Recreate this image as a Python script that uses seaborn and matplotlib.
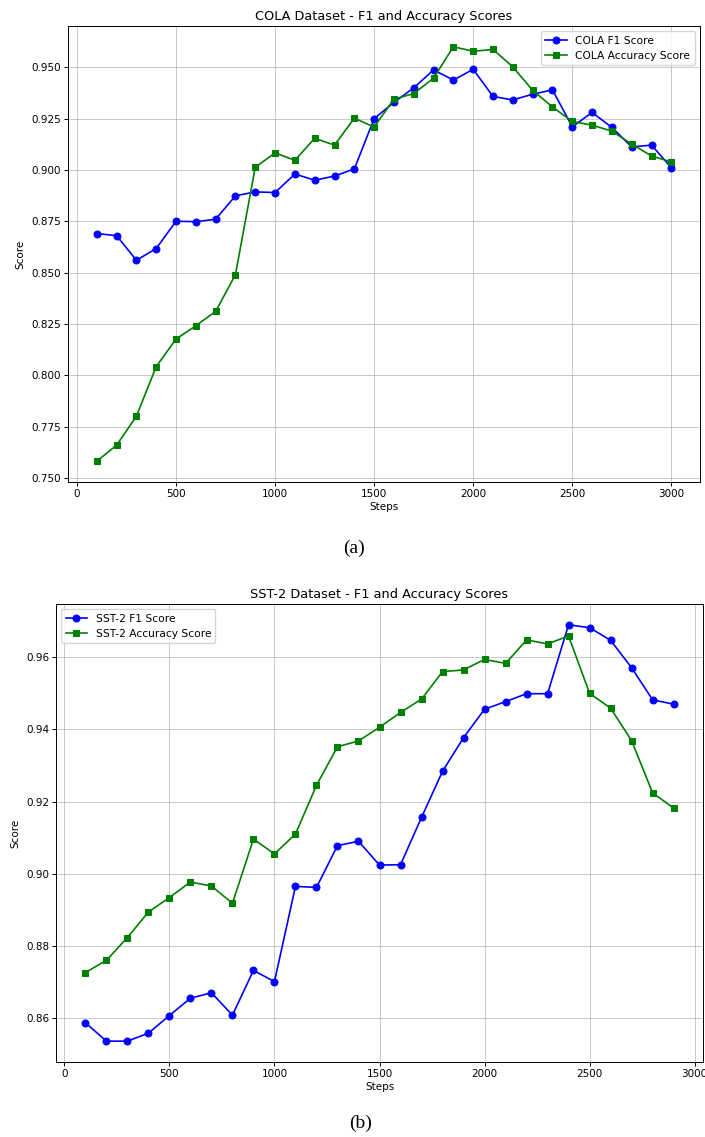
import numpy as np
import pandas as pd
import seaborn as sns
from matplotlib import pyplot as plt

# COLA scores, steps 100..3000
cola_steps = list(range(100, 3001, 100))
cola_f1 = [0.869, 0.868, 0.856, 0.8617, 0.875, 0.8748, 0.876, 0.8874, 0.8893, 0.889,
           0.898, 0.895, 0.897, 0.9005, 0.925, 0.9329, 0.940, 0.9487, 0.9438, 0.949,
           0.9358, 0.9341, 0.9369, 0.939, 0.921, 0.928, 0.9207, 0.9112, 0.9121, 0.9011]
cola_acc = [0.7581, 0.7659, 0.780, 0.8042, 0.8176, 0.8241, 0.8311, 0.849, 0.9013, 0.9083,
            0.9047, 0.9154, 0.9121, 0.9252, 0.9209, 0.9345, 0.9372, 0.9447, 0.960, 0.9578,
            0.9587, 0.9502, 0.9388, 0.9307, 0.9236, 0.9218, 0.9189, 0.9126, 0.9068, 0.9039]

# SST-2 scores, steps 100..2900
sst_steps = list(range(100, 2901, 100))
sst_f1 = [0.8587, 0.8536, 0.8536, 0.8558, 0.8607, 0.8655, 0.8670, 0.8608, 0.8732, 0.8701,
          0.8965, 0.8962, 0.9078, 0.9090, 0.9024, 0.9025, 0.9156, 0.9284, 0.9377, 0.9456,
          0.9477, 0.9499, 0.9499, 0.969, 0.9682, 0.9647, 0.9571, 0.9482, 0.9470]
sst_acc = [0.8726, 0.8760, 0.8823, 0.8894, 0.8934, 0.8977, 0.8966, 0.8918, 0.9096, 0.9055,
           0.9110, 0.9245, 0.9352, 0.9368, 0.9406, 0.9447, 0.9484, 0.9560, 0.9565, 0.9594,
           0.9583, 0.9648, 0.9637, 0.9659, 0.9500, 0.9459, 0.9369, 0.9224, 0.9182]

plt.rcParams['font.family'] = ['DejaVu Sans']
plt.rcParams['axes.linewidth'] = 0.7
plt.rcParams['xtick.major.width'] = 0.7
plt.rcParams['ytick.major.width'] = 0.7
plt.rcParams['xtick.major.size'] = 3
plt.rcParams['ytick.major.size'] = 3

fig = plt.figure(figsize=(7.05, 11.37), dpi=100)
ax1 = fig.add_axes([0.0965, 0.5761, 0.8965, 0.401])
ax2 = fig.add_axes([0.0794, 0.0660, 0.9178, 0.4028])

line_kw = dict(linewidth=1.2, markersize=5)


def draw(ax, steps, f1, acc, name, loc):
    df = pd.DataFrame({'Steps': steps, 'f1': f1, 'acc': acc})
    sns.lineplot(data=df, x='Steps', y='f1', ax=ax, color='blue', marker='o',
                 markeredgecolor='blue', label=name + ' F1 Score', **line_kw)
    sns.lineplot(data=df, x='Steps', y='acc', ax=ax, color='green', marker='s',
                 markeredgecolor='green', label=name + ' Accuracy Score', **line_kw)
    ax.set_title(name + ' Dataset - F1 and Accuracy Scores', fontsize=9.3, pad=4)
    ax.set_xlabel('Steps', fontsize=7.5, labelpad=2)
    ax.set_ylabel('Score', fontsize=7.5, labelpad=4)
    ax.tick_params(labelsize=7.5, pad=2)
    ax.grid(True, color='#b0b0b0', linewidth=0.6, alpha=0.8)
    ax.legend(loc=loc, fontsize=7.7, framealpha=0.8, borderpad=0.4, handlelength=2)


draw(ax1, cola_steps, cola_f1, cola_acc, 'COLA', 'upper right')
ax1.set_yticks([0.75, 0.775, 0.8, 0.825, 0.85, 0.875, 0.9, 0.925, 0.95])
ax1.set_yticklabels([f'{v:.3f}' for v in ax1.get_yticks()])
ax1.set_xticks([0, 500, 1000, 1500, 2000, 2500, 3000])

draw(ax2, sst_steps, sst_f1, sst_acc, 'SST-2', 'upper left')
ax2.set_yticks([0.86, 0.88, 0.90, 0.92, 0.94, 0.96])
ax2.set_yticklabels([f'{v:.2f}' for v in ax2.get_yticks()])
ax2.set_xticks([0, 500, 1000, 1500, 2000, 2500, 3000])

fig.text(0.502, 0.518, '(a)', fontsize=14, family=['Liberation Serif'], ha='center', va='center')
fig.text(0.511, 0.012, '(b)', fontsize=14, family=['Liberation Serif'], ha='center', va='center')

fig.savefig('out.png', dpi=100)
